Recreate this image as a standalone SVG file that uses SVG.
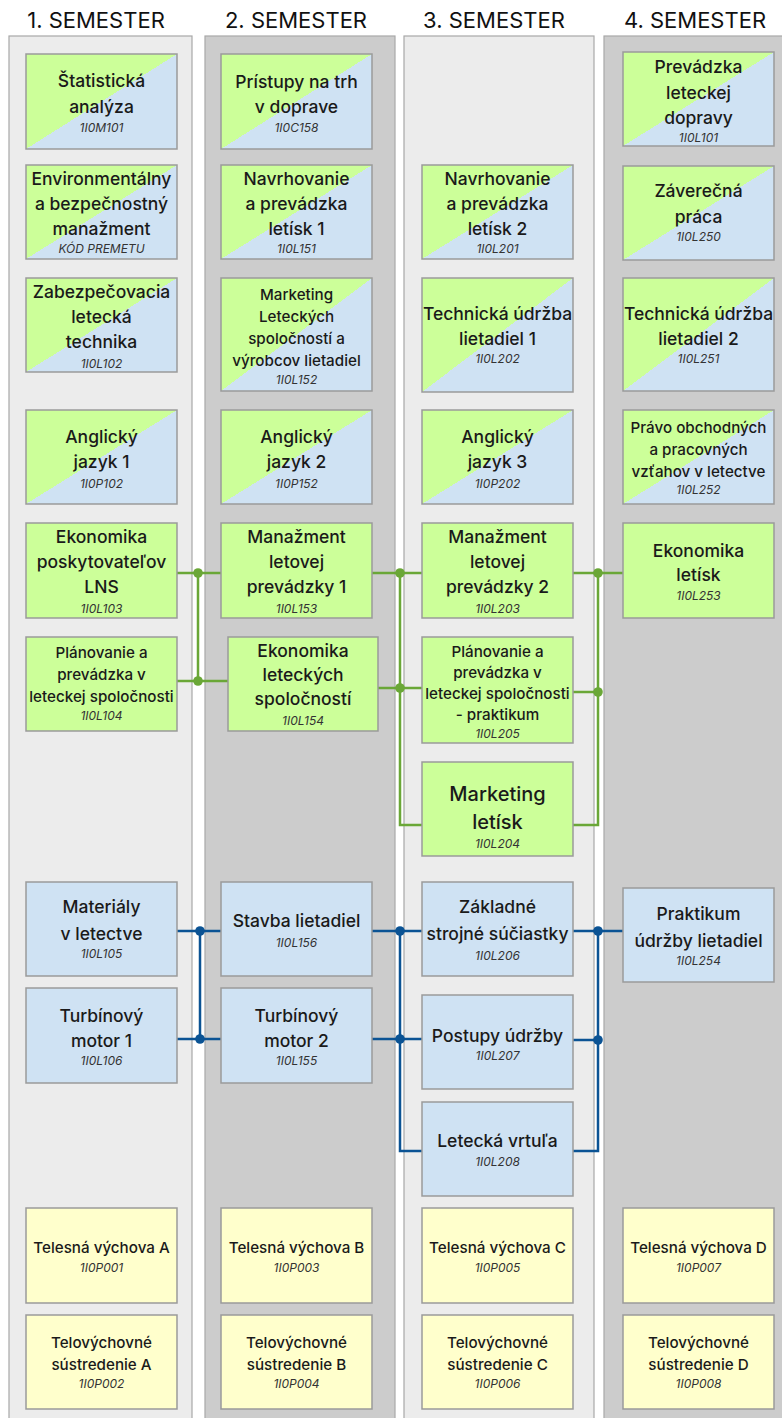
<svg xmlns="http://www.w3.org/2000/svg" width="782" height="1418" viewBox="0 0 782 1418">
<style>
.hd{font-family:Inter,"Liberation Sans",sans-serif;font-size:22px;fill:#111;text-anchor:middle}
.pl{fill:#ececec;stroke:#a8a8a8;stroke-width:1.2}
.pd{fill:#cccccc;stroke:#a8a8a8;stroke-width:1.2}
.n rect{stroke:#9a9a9a;stroke-width:1.5}
.gb{fill:url(#gb)}
.g{fill:#ccff99}
.b{fill:#cfe2f3}
.y{fill:#ffffcc}
.t{font-family:Inter,"Liberation Sans",sans-serif;font-weight:500;font-size:17.5px;fill:#1a1a1a;text-anchor:middle}
.s{font-family:Inter,"Liberation Sans",sans-serif;font-weight:500;font-size:15.2px;fill:#1a1a1a;text-anchor:middle}
.L{font-family:Inter,"Liberation Sans",sans-serif;font-weight:500;font-size:20px;fill:#1a1a1a;text-anchor:middle}
.c{font-family:Inter,"Liberation Sans",sans-serif;font-style:italic;font-size:12px;fill:#333;text-anchor:middle}
.cg{fill:none;stroke:#6aa737;stroke-width:2.5}
.cb{fill:none;stroke:#0b5394;stroke-width:2.5}
.dg{fill:#6aa737}
.db{fill:#0b5394}
</style>
<defs>
<linearGradient id="gb" x1="0" y1="0" x2="1" y2="1">
<stop offset="0" stop-color="#ccff99"/>
<stop offset="0.5" stop-color="#ccff99"/>
<stop offset="0.5" stop-color="#cfe2f3"/>
<stop offset="1" stop-color="#cfe2f3"/>
</linearGradient>
</defs>
<rect width="782" height="1418" fill="#ffffff"/>
<g id="headers">
<text class="hd" x="96" y="28">1. SEMESTER</text>
<text class="hd" x="296" y="28">2. SEMESTER</text>
<text class="hd" x="494" y="28">3. SEMESTER</text>
<text class="hd" x="695" y="28">4. SEMESTER</text>
</g>
<g id="panels">
<rect class="pl" x="9" y="36" width="183" height="1400"/>
<rect class="pd" x="205" y="36" width="190" height="1400"/>
<rect class="pl" x="404" y="36" width="190" height="1400"/>
<rect class="pd" x="604" y="36" width="190" height="1400"/>
</g>
<g id="connectors">
<path class="cg" d="M177,573H221M177,681H228M198,573V681"/>
<path class="cg" d="M372,573H422M378,688H422M400,573V825H422"/>
<path class="cg" d="M573,573H623M573,692H598M598,573V825H573"/>
<circle class="dg" cx="198" cy="573" r="4.8"/><circle class="dg" cx="198" cy="681" r="4.8"/>
<circle class="dg" cx="400" cy="573" r="4.8"/><circle class="dg" cx="400" cy="688" r="4.8"/>
<circle class="dg" cx="598" cy="573" r="4.8"/><circle class="dg" cx="598" cy="692" r="4.8"/>
<path class="cb" d="M177,931H221M177,1039H221M200,931V1039"/>
<path class="cb" d="M372,931H422M372,1039H422M400,931V1151H422"/>
<path class="cb" d="M573,931H623M573,1040H598M598,931V1151H573"/>
<circle class="db" cx="200" cy="931" r="4.8"/><circle class="db" cx="200" cy="1039" r="4.8"/>
<circle class="db" cx="400" cy="931" r="4.8"/><circle class="db" cx="400" cy="1039" r="4.8"/>
<circle class="db" cx="598" cy="931" r="4.8"/><circle class="db" cx="598" cy="1040" r="4.8"/>
</g>
<!-- Column 1 -->
<g id="n-1I0M101" class="n"><rect class="gb" x="26" y="54" width="151" height="95"/>
<text class="t" x="101.5" y="87">Štatistická</text><text class="t" x="101.5" y="113">analýza</text><text class="c" x="101.5" y="132">1I0M101</text></g>
<g id="n-env" class="n"><rect class="gb" x="26" y="165" width="151" height="94"/>
<text class="t" x="101.5" y="185">Environmentálny</text><text class="t" x="101.5" y="210">a bezpečnostný</text><text class="t" x="101.5" y="235">manažment</text><text class="c" x="101.5" y="253">KÓD PREMETU</text></g>
<g id="n-1I0L102" class="n"><rect class="gb" x="26" y="278" width="151" height="94"/>
<text class="t" x="101.5" y="298">Zabezpečovacia</text><text class="t" x="101.5" y="323">letecká</text><text class="t" x="101.5" y="348">technika</text><text class="c" x="101.5" y="368">1I0L102</text></g>
<g id="n-1I0P102" class="n"><rect class="gb" x="26" y="410" width="151" height="94"/>
<text class="t" x="101.5" y="443">Anglický</text><text class="t" x="101.5" y="468">jazyk 1</text><text class="c" x="101.5" y="488">1I0P102</text></g>
<g id="n-1I0L103" class="n"><rect class="g" x="26" y="523" width="151" height="95"/>
<text class="t" x="101.5" y="543">Ekonomika</text><text class="t" x="101.5" y="568">poskytovateľov</text><text class="t" x="101.5" y="593">LNS</text><text class="c" x="101.5" y="613">1I0L103</text></g>
<g id="n-1I0L104" class="n"><rect class="g" x="26" y="637" width="151" height="94"/>
<text class="s" x="101.5" y="658">Plánovanie a</text><text class="s" x="101.5" y="680">prevádzka v</text><text class="s" x="101.5" y="702">leteckej spoločnosti</text><text class="c" x="101.5" y="720">1I0L104</text></g>
<g id="n-1I0L105" class="n"><rect class="b" x="26" y="882" width="151" height="94"/>
<text class="t" x="101.5" y="913">Materiály</text><text class="t" x="101.5" y="940">v letectve</text><text class="c" x="101.5" y="958">1I0L105</text></g>
<g id="n-1I0L106" class="n"><rect class="b" x="26" y="988" width="151" height="95"/>
<text class="t" x="101.5" y="1022">Turbínový</text><text class="t" x="101.5" y="1047">motor 1</text><text class="c" x="101.5" y="1065">1I0L106</text></g>
<g id="n-1I0P001" class="n"><rect class="y" x="26" y="1208" width="151" height="95"/>
<text class="s" x="101.5" y="1253">Telesná výchova A</text><text class="c" x="101.5" y="1272">1I0P001</text></g>
<g id="n-1I0P002" class="n"><rect class="y" x="26" y="1315" width="151" height="94"/>
<text class="s" x="101.5" y="1348">Telovýchovné</text><text class="s" x="101.5" y="1370">sústredenie A</text><text class="c" x="101.5" y="1388">1I0P002</text></g>
<!-- Column 2 -->
<g id="n-1I0C158" class="n"><rect class="gb" x="221" y="54" width="151" height="95"/>
<text class="t" x="296.5" y="88">Prístupy na trh</text><text class="t" x="296.5" y="113">v doprave</text><text class="c" x="296.5" y="132">1I0C158</text></g>
<g id="n-1I0L151" class="n"><rect class="gb" x="221" y="165" width="151" height="94"/>
<text class="t" x="296.5" y="185">Navrhovanie</text><text class="t" x="296.5" y="210">a prevádzka</text><text class="t" x="296.5" y="235">letísk 1</text><text class="c" x="296.5" y="253">1I0L151</text></g>
<g id="n-1I0L152" class="n"><rect class="gb" x="221" y="278" width="151" height="113"/>
<text class="s" x="296.5" y="300">Marketing</text><text class="s" x="296.5" y="322">Leteckých</text><text class="s" x="296.5" y="344">spoločností a</text><text class="s" x="296.5" y="366">výrobcov lietadiel</text><text class="c" x="296.5" y="384">1I0L152</text></g>
<g id="n-1I0P152" class="n"><rect class="gb" x="221" y="410" width="151" height="94"/>
<text class="t" x="296.5" y="443">Anglický</text><text class="t" x="296.5" y="468">jazyk 2</text><text class="c" x="296.5" y="488">1I0P152</text></g>
<g id="n-1I0L153" class="n"><rect class="g" x="221" y="523" width="151" height="95"/>
<text class="t" x="296.5" y="543">Manažment</text><text class="t" x="296.5" y="568">letovej</text><text class="t" x="296.5" y="593">prevádzky 1</text><text class="c" x="296.5" y="613">1I0L153</text></g>
<g id="n-1I0L154" class="n"><rect class="g" x="228" y="637" width="150" height="94"/>
<text class="t" x="303" y="657">Ekonomika</text><text class="t" x="303" y="681">leteckých</text><text class="t" x="303" y="705">spoločností</text><text class="c" x="303" y="725">1I0L154</text></g>
<g id="n-1I0L156" class="n"><rect class="b" x="221" y="882" width="151" height="94"/>
<text class="t" x="296.5" y="927">Stavba lietadiel</text><text class="c" x="296.5" y="947">1I0L156</text></g>
<g id="n-1I0L155" class="n"><rect class="b" x="221" y="988" width="151" height="95"/>
<text class="t" x="296.5" y="1022">Turbínový</text><text class="t" x="296.5" y="1047">motor 2</text><text class="c" x="296.5" y="1065">1I0L155</text></g>
<g id="n-1I0P003" class="n"><rect class="y" x="221" y="1208" width="151" height="95"/>
<text class="s" x="296.5" y="1253">Telesná výchova B</text><text class="c" x="296.5" y="1272">1I0P003</text></g>
<g id="n-1I0P004" class="n"><rect class="y" x="221" y="1315" width="151" height="94"/>
<text class="s" x="296.5" y="1348">Telovýchovné</text><text class="s" x="296.5" y="1370">sústredenie B</text><text class="c" x="296.5" y="1388">1I0P004</text></g>
<!-- Column 3 -->
<g id="n-1I0L201" class="n"><rect class="gb" x="422" y="165" width="151" height="94"/>
<text class="t" x="497.5" y="185">Navrhovanie</text><text class="t" x="497.5" y="210">a prevádzka</text><text class="t" x="497.5" y="235">letísk 2</text><text class="c" x="497.5" y="253">1I0L201</text></g>
<g id="n-1I0L202" class="n"><rect class="gb" x="422" y="278" width="151" height="114"/>
<text class="t" x="497.5" y="320">Technická údržba</text><text class="t" x="497.5" y="345">lietadiel 1</text><text class="c" x="497.5" y="363">1I0L202</text></g>
<g id="n-1I0P202" class="n"><rect class="gb" x="422" y="410" width="151" height="94"/>
<text class="t" x="497.5" y="443">Anglický</text><text class="t" x="497.5" y="468">jazyk 3</text><text class="c" x="497.5" y="488">1I0P202</text></g>
<g id="n-1I0L203" class="n"><rect class="g" x="422" y="523" width="151" height="95"/>
<text class="t" x="497.5" y="543">Manažment</text><text class="t" x="497.5" y="568">letovej</text><text class="t" x="497.5" y="593">prevádzky 2</text><text class="c" x="497.5" y="613">1I0L203</text></g>
<g id="n-1I0L205" class="n"><rect class="g" x="422" y="637" width="151" height="106"/>
<text class="s" x="497.5" y="657">Plánovanie a</text><text class="s" x="497.5" y="678">prevádzka v</text><text class="s" x="497.5" y="699">leteckej spoločnosti</text><text class="s" x="497.5" y="720">- praktikum</text><text class="c" x="497.5" y="738">1I0L205</text></g>
<g id="n-1I0L204" class="n"><rect class="g" x="422" y="762" width="151" height="94"/>
<text class="L" x="497.5" y="801">Marketing</text><text class="L" x="497.5" y="829">letísk</text><text class="c" x="497.5" y="848">1I0L204</text></g>
<g id="n-1I0L206" class="n"><rect class="b" x="422" y="882" width="151" height="94"/>
<text class="t" x="497.5" y="913">Základné</text><text class="t" x="497.5" y="940">strojné súčiastky</text><text class="c" x="497.5" y="960">1I0L206</text></g>
<g id="n-1I0L207" class="n"><rect class="b" x="422" y="995" width="151" height="94"/>
<text class="t" x="497.5" y="1042">Postupy údržby</text><text class="c" x="497.5" y="1060">1I0L207</text></g>
<g id="n-1I0L208" class="n"><rect class="b" x="422" y="1102" width="151" height="94"/>
<text class="t" x="497.5" y="1147">Letecká vrtuľa</text><text class="c" x="497.5" y="1166">1I0L208</text></g>
<g id="n-1I0P005" class="n"><rect class="y" x="422" y="1208" width="151" height="95"/>
<text class="s" x="497.5" y="1253">Telesná výchova C</text><text class="c" x="497.5" y="1272">1I0P005</text></g>
<g id="n-1I0P006" class="n"><rect class="y" x="422" y="1315" width="151" height="94"/>
<text class="s" x="497.5" y="1348">Telovýchovné</text><text class="s" x="497.5" y="1370">sústredenie C</text><text class="c" x="497.5" y="1388">1I0P006</text></g>
<!-- Column 4 -->
<g id="n-1I0L101" class="n"><rect class="gb" x="623" y="52" width="151" height="94"/>
<text class="t" x="698.5" y="73">Prevádzka</text><text class="t" x="698.5" y="99">leteckej</text><text class="t" x="698.5" y="124">dopravy</text><text class="c" x="698.5" y="142">1I0L101</text></g>
<g id="n-1I0L250" class="n"><rect class="gb" x="623" y="166" width="151" height="94"/>
<text class="t" x="698.5" y="197">Záverečná</text><text class="t" x="698.5" y="223">práca</text><text class="c" x="698.5" y="241">1I0L250</text></g>
<g id="n-1I0L251" class="n"><rect class="gb" x="623" y="278" width="151" height="113"/>
<text class="t" x="698.5" y="320">Technická údržba</text><text class="t" x="698.5" y="345">lietadiel 2</text><text class="c" x="698.5" y="363">1I0L251</text></g>
<g id="n-1I0L252" class="n"><rect class="gb" x="623" y="410" width="151" height="94"/>
<text class="s" x="698.5" y="433">Právo obchodných</text><text class="s" x="698.5" y="455">a pracovných</text><text class="s" x="698.5" y="477">vzťahov v letectve</text><text class="c" x="698.5" y="494">1I0L252</text></g>
<g id="n-1I0L253" class="n"><rect class="g" x="623" y="523" width="151" height="95"/>
<text class="t" x="698.5" y="557">Ekonomika</text><text class="t" x="698.5" y="581">letísk</text><text class="c" x="698.5" y="600">1I0L253</text></g>
<g id="n-1I0L254" class="n"><rect class="b" x="623" y="888" width="151" height="94"/>
<text class="t" x="698.5" y="920">Praktikum</text><text class="t" x="698.5" y="947">údržby lietadiel</text><text class="c" x="698.5" y="965">1I0L254</text></g>
<g id="n-1I0P007" class="n"><rect class="y" x="623" y="1208" width="151" height="95"/>
<text class="s" x="698.5" y="1253">Telesná výchova D</text><text class="c" x="698.5" y="1272">1I0P007</text></g>
<g id="n-1I0P008" class="n"><rect class="y" x="623" y="1315" width="151" height="94"/>
<text class="s" x="698.5" y="1348">Telovýchovné</text><text class="s" x="698.5" y="1370">sústredenie D</text><text class="c" x="698.5" y="1388">1I0P008</text></g>
</svg>
